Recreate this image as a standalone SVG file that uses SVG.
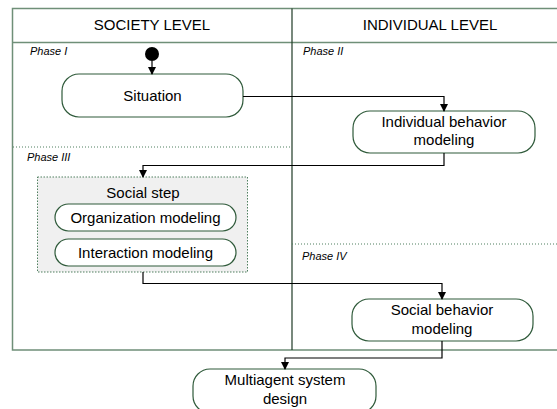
<svg xmlns="http://www.w3.org/2000/svg" width="557" height="409" viewBox="0 0 557 409">
<defs>
<marker id="arr" viewBox="0 0 8 8" refX="7" refY="4" markerWidth="8" markerHeight="8" markerUnits="userSpaceOnUse" orient="auto">
<path d="M0,0 L8,4 L0,8 z" fill="#000"/>
</marker>
<style>
.frame{fill:none;stroke:#6f8f78;stroke-width:1.5}
.div{stroke:#1f3a25;stroke-width:1.2;fill:none}
.phase{stroke:#4f7f5f;stroke-width:1;stroke-dasharray:1 2;fill:none}
.box{fill:#fff;stroke:#2f5a3a;stroke-width:1.2}
.grp{fill:#f0f0f0;stroke:#4f7f5f;stroke-width:1;stroke-dasharray:1.5 1.5}
.t{font-family:"Liberation Sans",Arial,sans-serif;font-size:15px;fill:#000;text-anchor:middle}
.h{font-family:"Liberation Sans",Arial,sans-serif;font-size:15px;fill:#000;text-anchor:middle}
.p{font-family:"Liberation Sans",Arial,sans-serif;font-size:11px;font-style:italic;fill:#000}
.c{fill:none;stroke:#000;stroke-width:1.2}
</style>
</defs>
<rect width="557" height="409" fill="#fff"/>
<g id="frame">
<path class="frame" d="M560,8.5 H12.5 V350 H560"/>
<line class="frame" x1="12.5" y1="42.5" x2="560" y2="42.5"/>
<line class="div" x1="292" y1="8.5" x2="292" y2="350"/>
<line class="phase" x1="13" y1="147" x2="292" y2="147"/>
<line class="phase" x1="292" y1="244" x2="557" y2="244"/>
<text class="h" x="152" y="30">SOCIETY LEVEL</text>
<text class="h" x="430" y="30">INDIVIDUAL LEVEL</text>
<text class="p" x="30" y="55">Phase I</text>
<text class="p" x="303" y="55">Phase II</text>
<text class="p" x="27" y="161">Phase III</text>
<text class="p" x="302" y="260">Phase IV</text>
</g>
<g id="start">
<circle cx="152" cy="54" r="7" fill="#000"/>
</g>
<g id="situation">
<rect class="box" x="62" y="74" width="181" height="43" rx="17"/>
<text class="t" x="152.5" y="101">Situation</text>
</g>
<g id="individual">
<rect class="box" x="353" y="111" width="182" height="42" rx="17"/>
<text class="t" x="444" y="127">Individual behavior</text>
<text class="t" x="444" y="145">modeling</text>
</g>
<g id="socialstep">
<rect class="grp" x="37.5" y="177" width="210" height="95"/>
<text class="t" x="143" y="198">Social step</text>
<g id="organization">
<rect class="box" x="55" y="204" width="181" height="27" rx="13.5"/>
<text class="t" x="145.5" y="223">Organization modeling</text>
</g>
<g id="interaction">
<rect class="box" x="55" y="239" width="181" height="27" rx="13.5"/>
<text class="t" x="145.5" y="258">Interaction modeling</text>
</g>
</g>
<g id="socialbehavior">
<rect class="box" x="352" y="299" width="181" height="42" rx="17"/>
<text class="t" x="442" y="315">Social behavior</text>
<text class="t" x="442" y="334">modeling</text>
</g>
<g id="multiagent">
<rect class="box" x="193" y="369" width="183" height="44" rx="17"/>
<text class="t" x="285" y="385">Multiagent system</text>
<text class="t" x="285" y="404">design</text>
</g>
<g id="connectors">
<path class="c" d="M152,61 V74" marker-end="url(#arr)"/>
<path class="c" d="M243,96.5 H444 V111" marker-end="url(#arr)"/>
<path class="c" d="M444,153 V165.5 H143 V177" marker-end="url(#arr)"/>
<path class="c" d="M143,272 V283.5 H442 V299" marker-end="url(#arr)"/>
<path class="c" d="M442,341 V358 H285 V369" marker-end="url(#arr)"/>
</g>
</svg>
